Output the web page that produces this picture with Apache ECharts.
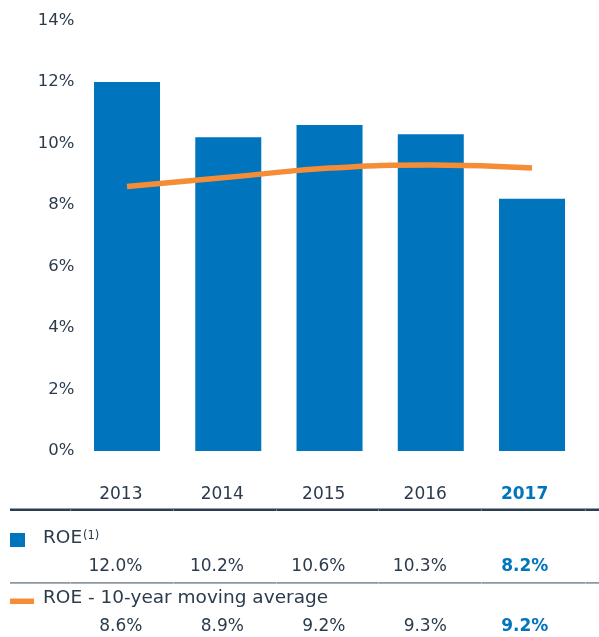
<!DOCTYPE html>
<html>
<head>
<meta charset="utf-8">
<script src="https://cdn.jsdelivr.net/npm/echarts@6/dist/echarts.min.js"></script>
<style>
  html, body { margin: 0; padding: 0; background: #ffffff; }
  #chart { width: 599px; height: 637px; }
</style>
</head>
<body>
<div id="chart"></div>
<script>
// Return on equity by year, with its 10-year moving average
const years = ['2013', '2014', '2015', '2016', '2017'];
const roe = [12.0, 10.2, 10.6, 10.3, 8.2];
const roeMovingAvg = [8.6, 8.9, 9.2, 9.3, 9.2];
const yTicks = { min: 0, max: 14, interval: 2 };

const BLUE = '#0074bc';
const ORANGE = '#f58d37';
const TEXT = '#2b3b4c';
const FONT = '"DejaVu Sans", sans-serif';
const last = years.length - 1;

const pct = v => v.toFixed(1) + '%';

// Labels under the plot: last column highlighted in bold blue
function tableLabels(margin) {
  return {
    interval: 0,
    margin: margin,
    align: 'right',
    color: TEXT,
    fontFamily: FONT,
    fontSize: 17,
    lineHeight: 20,
    formatter: (v, i) => (i === last ? '{hl|' + v + '}' : v),
    rich: {
      hl: { color: BLUE, fontWeight: 'bold', fontFamily: FONT, fontSize: 17, lineHeight: 20 }
    }
  };
}

function hiddenAxisParts() {
  return { axisLine: { show: false }, axisTick: { show: false }, splitLine: { show: false } };
}

// Horizontal rule with faint column separators
function rule(y, h, color, sepColor) {
  const cuts = [70, 173, 276, 378, 481, 585];
  const els = [{ type: 'rect', shape: { x: 10, y: y, width: 589, height: h }, style: { fill: color } }];
  cuts.forEach(x => els.push({ type: 'rect', shape: { x: x, y: y, width: 1, height: h }, style: { fill: sepColor } }));
  return els;
}

const chart = echarts.init(document.getElementById('chart'), null, { renderer: 'canvas' });

const option = {
  animation: false,
  grid: [
    { left: 76.4, width: 506.25, top: 20.5, height: 430.5, containLabel: false },
    { left: 91.75, width: 512.5, top: 20.5, height: 430.5, containLabel: false }
  ],
  xAxis: [
    Object.assign({ type: 'category', data: years, gridIndex: 0, axisLabel: { show: false } }, hiddenAxisParts()),
    Object.assign({ type: 'category', data: years, gridIndex: 1, position: 'bottom',
      axisLabel: tableLabels(35) }, hiddenAxisParts()),
    Object.assign({ type: 'category', data: roe.map(pct), gridIndex: 1, position: 'bottom',
      axisLabel: tableLabels(107) }, hiddenAxisParts()),
    Object.assign({ type: 'category', data: roeMovingAvg.map(pct), gridIndex: 1, position: 'bottom',
      axisLabel: tableLabels(167) }, hiddenAxisParts())
  ],
  yAxis: [
    Object.assign({
      type: 'value', gridIndex: 0,
      min: yTicks.min, max: yTicks.max, interval: yTicks.interval,
      axisLabel: {
        formatter: '{value}%', margin: 2, color: TEXT, fontFamily: FONT, fontSize: 16.5
      }
    }, hiddenAxisParts()),
    Object.assign({ type: 'value', gridIndex: 1, min: 0, max: 14, axisLabel: { show: false } }, hiddenAxisParts())
  ],
  series: [
    {
      name: 'ROE',
      type: 'bar',
      xAxisIndex: 0, yAxisIndex: 0,
      data: roe,
      barWidth: 66,
      itemStyle: { color: BLUE }
    },
    {
      name: 'ROE - 10-year moving average',
      type: 'line',
      xAxisIndex: 0, yAxisIndex: 0,
      data: roeMovingAvg,
      smooth: true,
      symbol: 'none',
      lineStyle: { color: ORANGE, width: 5.5, cap: 'butt' },
      z: 3
    }
  ],
  graphic: [].concat(
    rule(508.5, 2.5, '#2a3d52', '#6d7d8c'),
    rule(582, 1.8, '#8c97a1', '#c3c9ce'),
    [
      { type: 'rect', shape: { x: 10, y: 533, width: 15, height: 14 }, style: { fill: BLUE } },
      { type: 'text', left: 43, top: 529, style: { text: 'ROE', fill: TEXT, font: '18.5px ' + FONT } },
      { type: 'text', left: 83, top: 530, style: { text: '(1)', fill: TEXT, font: '11.5px ' + FONT } },
      { type: 'rect', shape: { x: 10, y: 598.5, width: 24, height: 5.5 }, style: { fill: ORANGE } },
      { type: 'text', left: 43, top: 589, style: { text: 'ROE - 10-year moving average', fill: TEXT, font: '18.5px ' + FONT } }
    ]
  )
};

chart.setOption(option);
</script>
</body>
</html>
